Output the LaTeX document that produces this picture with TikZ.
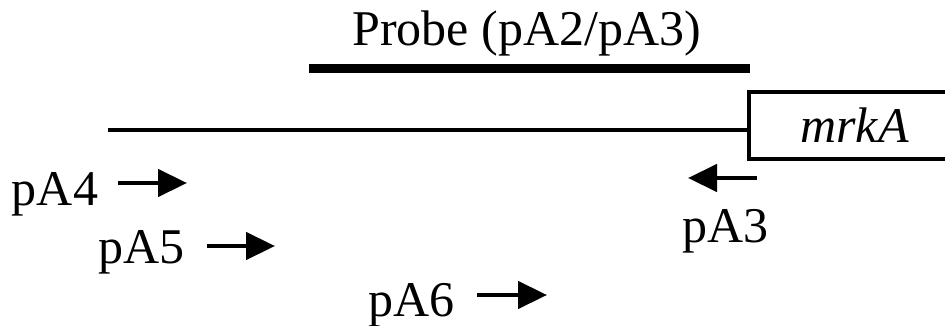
\documentclass[tikz,border=0pt]{standalone}
\usepackage{fontspec}
\setmainfont{Liberation Serif}
\usetikzlibrary{arrows.meta, positioning}

\begin{document}
\begin{tikzpicture}[
    x=1pt, y=-1pt,
    every node/.style={font=\fontsize{50}{60}\selectfont, inner sep=0pt, outer sep=0pt},
    lbl/.style={anchor=base},
    primer/.style={line width=4.5pt, -{Triangle[length=29pt, width=27pt]}},
    gene/.style={draw, line width=4.5pt, anchor=west, minimum width=271pt, minimum height=67pt}
]
\clip (0,0) rectangle (945,326);

% Gene (runs off the right edge) and upstream region
\node[gene] (mrkA) at (749,125.5) {\textit{mrkA}\hspace*{60pt}};
\coordinate (up) at (108,130);
\draw[line width=4pt] (up) -- (up -| mrkA.west);

% Probe
\coordinate (probeL) at (309,68.5);
\coordinate (probeR) at (750,68.5);
\draw[line width=9pt] (probeL) -- (probeR);
\node[lbl] (probe) at (526.5,46) {Probe (pA2/pA3)};

% Primers
\node[lbl] (pA4) at (55,205) {pA4};
\node[lbl] (pA5) at (141.5,263) {pA5};
\node[lbl] (pA6) at (411.5,316) {pA6};
\node[lbl] (pA3) at (725.5,242) {pA3};

\coordinate (a4s) at (118,183);
\coordinate (a4e) at (187,183);
\coordinate (a5s) at (207,246);
\coordinate (a5e) at (275,246);
\coordinate (a6s) at (477,295);
\coordinate (a6e) at (547,295);
\coordinate (a3s) at (757,178);
\coordinate (a3e) at (688,178);

\draw[primer] (a4s) -- (a4e);
\draw[primer] (a5s) -- (a5e);
\draw[primer] (a6s) -- (a6e);
\draw[primer] (a3s) -- (a3e);

\end{tikzpicture}
\end{document}
